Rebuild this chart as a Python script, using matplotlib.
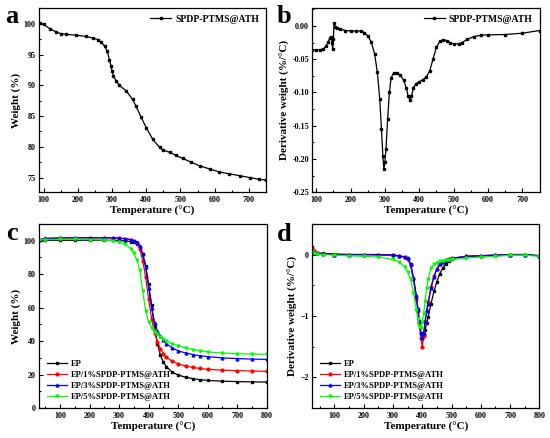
import matplotlib.pyplot as plt
from matplotlib.ticker import MultipleLocator

plt.rcParams['font.family'] = ['Liberation Serif', 'DejaVu Serif']
plt.rcParams['font.weight'] = 'bold'
plt.rcParams['axes.labelweight'] = 'bold'

# (a) TGA of SPDP-PTMS@ATH
temp_a = [88, 100, 118, 137, 151, 166, 195, 224, 243, 258, 268, 278, 285, 292,
          297, 300, 304, 312, 321, 341, 360, 370, 385, 400, 419, 439, 448, 468,
          487, 507, 531, 556, 585, 614, 643, 673, 702, 731, 750]
weight_a = [100.1, 99.9, 99.2, 98.65, 98.4, 98.3, 98.15, 97.95, 97.7, 97.45, 97.0,
            96.4, 95.6, 94.2, 93.1, 92.3, 91.5, 90.7, 90.0, 89.1, 87.7, 86.6, 84.8,
            83.1, 81.2, 79.9, 79.5, 79.1, 78.6, 78.1, 77.5, 76.9, 76.4, 75.9, 75.6,
            75.3, 75.0, 74.7, 74.6]

# (b) DTG of SPDP-PTMS@ATH
temp_b = [88, 100, 110, 120, 128, 135, 140, 144, 146, 148, 150, 152, 155, 160, 170,
          185, 200, 215, 230, 240, 250, 260, 270, 278, 285, 290, 294, 297, 300, 303,
          308, 313, 318, 325, 335, 345, 355, 362, 368, 372, 377, 383, 390, 400, 410,
          420, 430, 440, 450, 460, 470, 480, 490, 500, 515, 525, 540, 560, 580, 600,
          650, 700, 750]
dtg_b = [-0.036, -0.036, -0.036, -0.035, -0.031, -0.024, -0.018, -0.016, -0.025,
         -0.035, -0.020, 0.004, -0.001, -0.003, -0.005, -0.007, -0.0075, -0.0078,
         -0.0078, -0.010, -0.015, -0.024, -0.042, -0.070, -0.110, -0.155, -0.195,
         -0.215, -0.205, -0.185, -0.140, -0.100, -0.078, -0.071, -0.071, -0.074,
         -0.082, -0.093, -0.106, -0.111, -0.106, -0.093, -0.087, -0.084, -0.081,
         -0.077, -0.068, -0.050, -0.032, -0.023, -0.021, -0.022, -0.025, -0.027,
         -0.027, -0.025, -0.020, -0.016, -0.014, -0.0135, -0.013, -0.011, -0.007]

labels_cd = ['EP', 'EP/1%SPDP-PTMS@ATH', 'EP/3%SPDP-PTMS@ATH', 'EP/5%SPDP-PTMS@ATH']
colors_cd = ['black', 'red', 'blue', '#00ff00']
markers_cd = ['s', 'o', '^', 'v']

# (c) TGA of the composites
temp_c = [30, 50, 100, 150, 200, 250, 280, 300, 320, 340, 350, 360, 370, 380, 390,
          400, 410, 420, 430, 440, 450, 460, 480, 500, 525, 550, 575, 600, 650, 700,
          750, 800]
tga_ep = [100.2, 100.2, 100.2, 100.2, 100.2, 100.2, 100.1, 100.0, 99.8, 99.4, 99.0,
          98.2, 96.0, 92.0, 85.0, 74.0, 61.5, 49.0, 38.5, 31.5, 27.5, 24.8, 21.5,
          19.8, 18.5, 17.6, 17.0, 16.6, 16.1, 15.9, 15.7, 15.6]
tga_1 = [100.4, 101.2, 101.5, 101.6, 101.6, 101.6, 101.5, 101.4, 101.1, 100.5, 99.8,
         98.5, 95.0, 88.0, 78.0, 65.0, 53.5, 45.0, 39.5, 35.5, 32.5, 30.5, 28.0,
         26.5, 25.2, 24.3, 23.7, 23.2, 22.7, 22.4, 22.2, 22.0]
tga_3 = [100.5, 101.3, 101.6, 101.7, 101.7, 101.7, 101.6, 101.5, 101.2, 100.6, 100.0,
         99.3, 97.0, 92.0, 84.0, 72.0, 60.0, 51.0, 46.0, 43.0, 40.5, 38.5, 36.0,
         34.2, 33.0, 32.0, 31.3, 30.8, 30.0, 29.6, 29.3, 29.1]
tga_5 = [100.3, 100.6, 100.7, 100.7, 100.6, 100.3, 99.8, 99.1, 97.8, 95.0, 92.5, 88.5,
         82.5, 70.0, 58.0, 51.5, 48.0, 45.5, 44.0, 42.5, 41.3, 40.2, 38.5, 37.2,
         36.0, 35.0, 34.2, 33.6, 32.9, 32.5, 32.3, 32.2]

# (d) DTG of the composites
temp_d = [25, 30, 40, 60, 100, 150, 200, 250, 300, 320, 340, 350, 360, 370, 380, 385,
          390, 395, 400, 405, 410, 415, 420, 430, 440, 450, 460, 470, 480, 490, 500,
          550, 600, 650, 700, 750, 800]
dtg_ep = [0.12, 0.06, 0.03, 0.02, 0.01, 0.0, 0.0, 0.0, -0.01, -0.02, -0.04, -0.06,
          -0.15, -0.38, -0.68, -0.88, -1.08, -1.27, -1.35, -1.30, -1.22, -1.12, -1.02,
          -0.80, -0.60, -0.44, -0.31, -0.22, -0.15, -0.10, -0.07, -0.03, -0.02, -0.01,
          0.0, 0.0, -0.02]
dtg_1 = [0.10, 0.05, 0.02, 0.01, 0.0, 0.0, 0.0, -0.01, -0.01, -0.02, -0.04, -0.07,
         -0.17, -0.40, -0.72, -0.92, -1.12, -1.35, -1.50, -1.32, -1.10, -0.92, -0.78,
         -0.52, -0.35, -0.23, -0.16, -0.12, -0.09, -0.07, -0.06, -0.03, -0.02, -0.01,
         0.0, 0.0, -0.02]
dtg_3 = [0.08, 0.04, 0.02, 0.01, 0.0, 0.0, 0.0, 0.0, -0.01, -0.02, -0.04, -0.06,
         -0.15, -0.38, -0.68, -0.88, -1.08, -1.28, -1.36, -1.27, -1.08, -0.92, -0.80,
         -0.55, -0.36, -0.24, -0.16, -0.12, -0.09, -0.07, -0.06, -0.03, -0.02, -0.01,
         0.0, 0.0, -0.02]
dtg_5 = [0.05, 0.02, 0.01, 0.0, -0.01, -0.02, -0.03, -0.04, -0.08, -0.12, -0.20,
         -0.28, -0.40, -0.62, -0.90, -1.05, -1.17, -1.20, -1.10, -0.95, -0.75, -0.55,
         -0.40, -0.22, -0.16, -0.13, -0.11, -0.10, -0.09, -0.085, -0.08, -0.06,
         -0.04, -0.03, -0.01, -0.01, -0.03]

fig = plt.figure(figsize=(5.5, 4.38), dpi=100)
ax_a = fig.add_axes([0.0715, 0.561, 0.412, 0.421])
ax_b = fig.add_axes([0.568, 0.561, 0.413, 0.421])
ax_c = fig.add_axes([0.0715, 0.068, 0.4135, 0.421])
ax_d = fig.add_axes([0.568, 0.068, 0.4127, 0.421])


def style(ax, xmaj, ymaj, xlabel, ylabel):
    ax.xaxis.set_major_locator(MultipleLocator(xmaj))
    ax.xaxis.set_minor_locator(MultipleLocator(xmaj / 2))
    ax.yaxis.set_major_locator(MultipleLocator(ymaj))
    ax.yaxis.set_minor_locator(MultipleLocator(ymaj / 2))
    ax.tick_params(which='both', direction='in', labelsize=5.8, pad=2.5, width=0.8)
    ax.tick_params(which='major', length=3)
    ax.tick_params(which='minor', length=1.6)
    for s in ax.spines.values():
        s.set_linewidth(0.9)
    ax.set_xlabel(xlabel, fontsize=8, labelpad=1.5)
    ax.set_ylabel(ylabel, fontsize=8, labelpad=2)


ax_a.plot(temp_a, weight_a, color='black', lw=0.9, marker='s', ms=1.6,
          label='SPDP-PTMS@ATH')
ax_a.set_xlim(87, 750)
ax_a.set_ylim(72.6, 102.6)
style(ax_a, 100, 5, 'Temperature (°C)', 'Weight (%)')
ax_a.legend(loc='upper right', frameon=False, fontsize=7, handlelength=2.2,
            borderaxespad=0.3, handletextpad=0.4)

ax_b.plot(temp_b, dtg_b, color='black', lw=0.9, marker='s', ms=1.6,
          label='SPDP-PTMS@ATH')
ax_b.set_xlim(89, 750)
ax_b.set_ylim(-0.25, 0.027)
style(ax_b, 100, 0.05, 'Temperature (°C)', 'Derivative weight (%/°C)')
ax_b.yaxis.set_major_formatter(plt.FormatStrFormatter('%.2f'))
ax_b.legend(loc='upper right', frameon=False, fontsize=7, handlelength=2.2,
            borderaxespad=0.3, handletextpad=0.4)

for y, lab, c, m in zip([tga_ep, tga_1, tga_3, tga_5], labels_cd, colors_cd, markers_cd):
    ax_c.plot(temp_c, y, color=c, lw=0.9, marker=m, ms=2, label=lab)
ax_c.set_xlim(30, 800)
ax_c.set_ylim(0, 110)
style(ax_c, 100, 20, 'Temperature (°C)', 'Weight (%)')
ax_c.legend(loc='lower left', frameon=False, fontsize=6.1, handlelength=2.4,
            borderaxespad=0.5, handletextpad=0.4, labelspacing=0.35)

for y, lab, c, m in zip([dtg_ep, dtg_1, dtg_3, dtg_5], labels_cd, colors_cd, markers_cd):
    ax_d.plot(temp_d, y, color=c, lw=0.9, marker=m, ms=2, label=lab)
ax_d.set_xlim(25, 800)
ax_d.set_ylim(-2.5, 0.5)
style(ax_d, 100, 1, 'Temperature (°C)', 'Derivative weight (%/°C)')
ax_d.legend(loc='lower left', frameon=False, fontsize=6.1, handlelength=2.4,
            borderaxespad=0.5, handletextpad=0.4, labelspacing=0.35)

for letter, x, y in [('a', 12, 23), ('b', 284, 23), ('c', 12, 240), ('d', 284, 241)]:
    fig.text(x / 550, 1 - y / 438, letter, fontsize=19, fontweight='bold',
             ha='center', va='baseline')

fig.savefig('out.png', dpi=100)
